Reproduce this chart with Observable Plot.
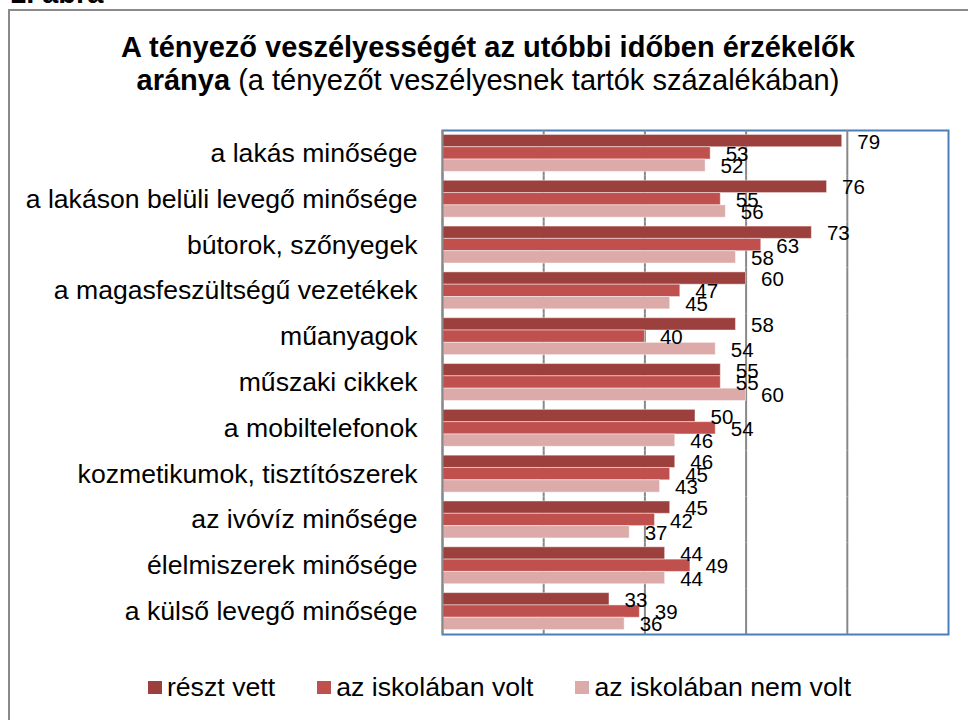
<!DOCTYPE html>
<html>
<head>
<meta charset="utf-8">
<script src="https://cdn.jsdelivr.net/npm/d3@7"></script>
<script src="https://cdn.jsdelivr.net/npm/@observablehq/plot@0.6"></script>
<style>
  html, body { margin: 0; padding: 0; background: #fff; }
  #wrap { position: relative; width: 968px; height: 720px; overflow: hidden; font-family: "Liberation Sans", Arial, sans-serif; color: #000; }
  #outer { position: absolute; left: 8px; top: 9px; width: 1100px; height: 900px; border-left: 2px solid #8a8a8a; border-top: 2px solid #8a8a8a; }
  #fig { position: absolute; left: 10px; top: -21px; font-size: 29px; font-weight: bold; line-height: 28px; white-space: nowrap; }
  #title { position: absolute; left: 0; top: 31px; width: 976px; text-align: center; font-size: 29px; line-height: 33px; }
  #chart { position: absolute; left: 0; top: 0; }
  #legend { position: absolute; left: 0; top: 674px; width: 999px; display: flex; justify-content: center; gap: 42px; font-size: 26.7px; line-height: 26px; }
  .item { display: flex; align-items: center; gap: 5px; white-space: nowrap; }
  .sw { width: 14px; height: 13px; display: inline-block; }
</style>
</head>
<body>
<div id="wrap">
  <div id="outer"></div>
  <div id="fig">1. ábra</div>
  <div id="chart"></div>
  <div id="title"><b>A tényező veszélyességét az utóbbi időben érzékelők</b><br><b>aránya</b> (a tényezőt veszélyesnek tartók százalékában)</div>
  <div id="legend"></div>
</div>
<script>
const categories = [
  "a lakás minősége",
  "a lakáson belüli levegő minősége",
  "bútorok, szőnyegek",
  "a magasfeszültségű vezetékek",
  "műanyagok",
  "műszaki cikkek",
  "a mobiltelefonok",
  "kozmetikumok, tisztítószerek",
  "az ivóvíz minősége",
  "élelmiszerek minősége",
  "a külső levegő minősége"
];
const series = ["részt vett", "az iskolában volt", "az iskolában nem volt"];
const resztVett = [79, 76, 73, 60, 58, 55, 50, 46, 45, 44, 33];
const iskolabanVolt = [53, 55, 63, 47, 40, 55, 54, 45, 42, 49, 39];
const iskolabanNemVolt = [52, 56, 58, 45, 54, 60, 46, 43, 37, 44, 36];
const xDomain = [0, 100];
const gridTicks = [20, 40, 60, 80];
const colors = ["#9c403e", "#c0504d", "#dcaaa9"];

const seriesValues = [resztVett, iskolabanVolt, iskolabanNemVolt];
const data = [];
categories.forEach((c, i) => {
  series.forEach((s, j) => data.push({category: c, series: s, value: seriesValues[j][i]}));
});

const chart = Plot.plot({
  width: 968,
  height: 720,
  marginLeft: 442,
  marginRight: 20,
  marginTop: 130,
  marginBottom: 86,
  style: {fontFamily: "'Liberation Sans', Arial, sans-serif", fontSize: "26.6px", color: "#000", background: "transparent"},
  x: {domain: xDomain, axis: null},
  y: {domain: series, axis: null, paddingInner: 0, paddingOuter: 0.36, round: false},
  fy: {domain: categories, padding: 0, round: false, axis: "left", label: null, tickSize: 0, tickPadding: 25},
  color: {domain: series, range: colors},
  marks: [
    Plot.frame({stroke: "#4a7ebb", strokeWidth: 2, facet: "super"}),
    Plot.ruleX(gridTicks, {stroke: "#888888", strokeWidth: 2}),
    Plot.barX(data, {x: "value", y: "series", fy: "category", fill: "series", stroke: "#ffffff", strokeOpacity: 0.45, strokeWidth: 1}),
    Plot.ruleX([xDomain[0]], {stroke: "#888888", strokeWidth: 2}),
    Plot.text(data, {x: "value", y: "series", fy: "category", text: d => String(d.value), dx: 15, dy: 1, textAnchor: "start", fontSize: 20.5, fill: "#000"})
  ]
});
document.getElementById("chart").appendChild(chart);

const legend = document.getElementById("legend");
series.forEach((s, j) => {
  const it = document.createElement("div");
  it.className = "item";
  const sw = document.createElement("span");
  sw.className = "sw";
  sw.style.background = colors[j];
  const t = document.createElement("span");
  t.textContent = s;
  it.appendChild(sw);
  it.appendChild(t);
  legend.appendChild(it);
});
</script>
</body>
</html>
